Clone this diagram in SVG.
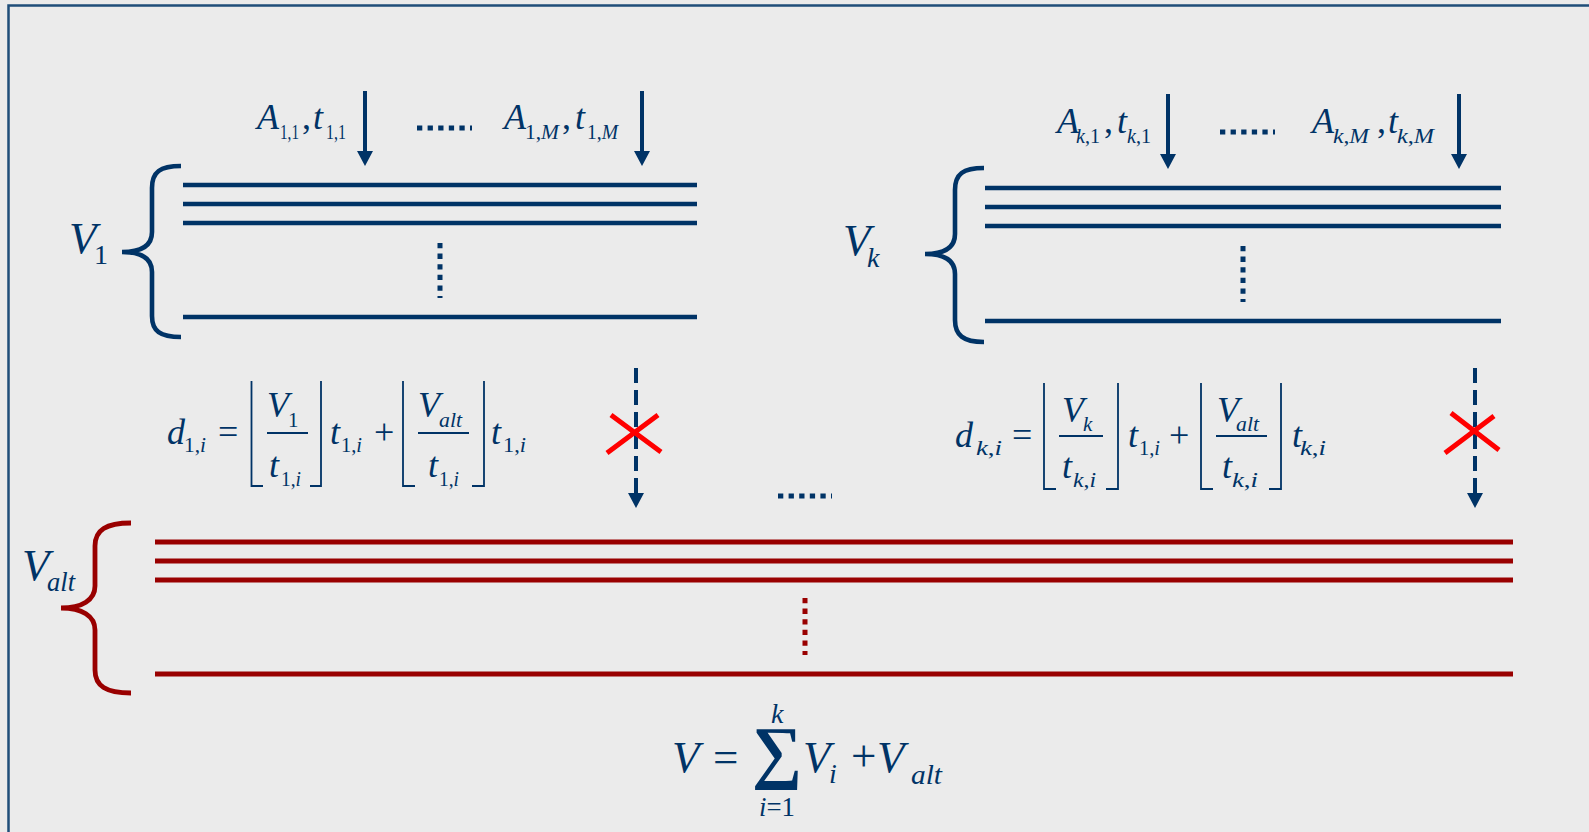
<svg xmlns="http://www.w3.org/2000/svg" width="1589" height="832" viewBox="0 0 1589 832">
<style>
.bl{stroke:#003366;stroke-width:4.6;fill:none}
.rl{stroke:#990000;stroke-width:4.8;fill:none}
.dot{stroke-dasharray:5.3 5.3;stroke-width:5;fill:none}
.thin{stroke:#003366;stroke-width:1.8;fill:none}
.x{stroke:#FF0000;stroke-width:5;fill:none}
.dash{stroke:#003366;stroke-width:4;stroke-dasharray:15 7;fill:none}
.arr{stroke:#003366;stroke-width:4;fill:none}
text{font-family:"Liberation Serif","Times New Roman",serif;fill:#003366}
.i{font-style:italic}
.m{font-size:36px}
.s{font-size:21px}
.L{font-size:45px}
.LS{font-size:28px}
</style>
<defs>
<marker id="ah" markerUnits="userSpaceOnUse" markerWidth="15" markerHeight="16" viewBox="0 0 15 16" refX="0" refY="8" orient="auto"><path d="M0,0 L15,8 L0,16z" fill="#003366"/></marker>
</defs>
<rect x="0" y="0" width="1589" height="832" fill="#EBEBEB"/>
<rect id="frame" x="8.5" y="5.5" width="1640" height="900" fill="none" stroke="#1F4E79" stroke-width="2.5"/>

<g id="node-v1">
<path class="bl" d="M181,166 C160,166 152,172 152,188 L152,232 C152,245 142,252 122,252 C142,252 152,259 152,272 L152,316 C152,331 160,337 181,337"/>
<path class="bl" d="M183,185 H697 M183,204 H697 M183,223 H697 M183,317 H697"/>
<path class="dot" stroke="#003366" d="M440,243 V298"/>
<text x="69" y="253" class="i L">V</text>
<text x="94" y="264" class="LS">1</text>
</g>

<g id="node-vk">
<path class="bl" d="M984,168 C963,168 955,174 955,190 L955,234 C955,247 945,254 925,254 C945,254 955,261 955,274 L955,320 C955,335 963,342 984,342"/>
<path class="bl" d="M985,188 H1501 M985,207 H1501 M985,226 H1501 M985,321 H1501"/>
<path class="dot" stroke="#003366" d="M1243,246 V302"/>
<text x="843" y="255" class="i L">V</text>
<text x="867" y="267" class="i LS">k</text>
</g>

<g id="node-valt">
<path class="rl" d="M131,523 C106,523 95,530 95,546 L95,586 C95,600 82,608 61,608 C82,608 95,616 95,630 L95,670 C95,686 106,693 131,693"/>
<path class="rl" d="M155,542 H1513 M155,561 H1513 M155,580 H1513 M155,674 H1513"/>
<path class="dot" stroke="#990000" d="M805,598 V655"/>
<text x="22" y="580" class="i L">V</text>
<text x="47" y="591" class="i LS" textLength="28" lengthAdjust="spacingAndGlyphs">alt</text>
</g>

<g id="labels-v1">
<text x="257" y="129" class="i m">A</text>
<text x="280" y="139" class="s" textLength="19" lengthAdjust="spacingAndGlyphs">1,1</text>
<text x="302" y="129" class="m">,</text>
<text x="313" y="129" class="i m">t</text>
<text x="326" y="139" class="s" textLength="20" lengthAdjust="spacingAndGlyphs">1,1</text>
<path class="dot" stroke="#003366" d="M417,128 H472"/>
<text x="504" y="129" class="i m">A</text>
<text x="525" y="139" class="s" textLength="34" lengthAdjust="spacingAndGlyphs">1,<tspan class="i">M</tspan></text>
<text x="562" y="129" class="m">,</text>
<text x="575" y="129" class="i m">t</text>
<text x="587" y="139" class="s" textLength="31" lengthAdjust="spacingAndGlyphs">1,<tspan class="i">M</tspan></text>
</g>

<g id="labels-vk">
<text x="1057" y="133" class="i m">A</text>
<text x="1076" y="143" class="s" textLength="24" lengthAdjust="spacingAndGlyphs"><tspan class="i">k</tspan>,1</text>
<text x="1104" y="133" class="m">,</text>
<text x="1117" y="133" class="i m">t</text>
<text x="1127" y="143" class="s" textLength="24" lengthAdjust="spacingAndGlyphs"><tspan class="i">k</tspan>,1</text>
<path class="dot" stroke="#003366" d="M1220,132 H1275"/>
<text x="1312" y="133" class="i m">A</text>
<text x="1333" y="143" class="s" textLength="36" lengthAdjust="spacingAndGlyphs"><tspan class="i">k</tspan>,<tspan class="i">M</tspan></text>
<text x="1377" y="133" class="m">,</text>
<text x="1388" y="133" class="i m">t</text>
<text x="1397" y="143" class="s" textLength="37" lengthAdjust="spacingAndGlyphs"><tspan class="i">k</tspan>,<tspan class="i">M</tspan></text>
</g>

<g id="formula-d1">
<text x="167" y="444" class="i m">d</text>
<text x="184" y="452" class="s" textLength="22" lengthAdjust="spacingAndGlyphs">1,<tspan class="i">i</tspan></text>
<text x="218" y="444" class="m">=</text>
<path class="thin" d="M263,486 H251.5 V381 M310,486 H321 V381"/>
<text x="267" y="417" class="i m">V</text>
<text x="288" y="427" class="s">1</text>
<path class="thin" d="M267,433 H308"/>
<text x="269" y="477" class="i m">t</text>
<text x="281" y="486" class="s" textLength="20" lengthAdjust="spacingAndGlyphs">1,<tspan class="i">i</tspan></text>
<text x="330" y="444" class="i m">t</text>
<text x="341" y="452" class="s" textLength="21" lengthAdjust="spacingAndGlyphs">1,<tspan class="i">i</tspan></text>
<text x="374" y="444" class="m">+</text>
<path class="thin" d="M415,486 H403 V381 M472,486 H484 V381"/>
<text x="418" y="417" class="i m">V</text>
<text x="439" y="427" class="i s" textLength="23" lengthAdjust="spacingAndGlyphs">alt</text>
<path class="thin" d="M418,433 H469"/>
<text x="428" y="477" class="i m">t</text>
<text x="439" y="486" class="s" textLength="20" lengthAdjust="spacingAndGlyphs">1,<tspan class="i">i</tspan></text>
<text x="491" y="444" class="i m">t</text>
<text x="503" y="452" class="s" textLength="23" lengthAdjust="spacingAndGlyphs">1,<tspan class="i">i</tspan></text>
</g>

<g id="formula-dk">
<text x="955" y="447" class="i m">d</text>
<text x="976" y="455" class="s" textLength="26" lengthAdjust="spacingAndGlyphs"><tspan class="i">k</tspan>,<tspan class="i">i</tspan></text>
<text x="1012" y="447" class="m">=</text>
<path class="thin" d="M1056,489 H1044 V383 M1106,489 H1118 V383"/>
<text x="1062" y="422" class="i m">V</text>
<text x="1083" y="431" class="i s">k</text>
<path class="thin" d="M1059,436 H1103"/>
<text x="1062" y="478" class="i m">t</text>
<text x="1073" y="487" class="s" textLength="23" lengthAdjust="spacingAndGlyphs"><tspan class="i">k</tspan>,<tspan class="i">i</tspan></text>
<text x="1128" y="447" class="i m">t</text>
<text x="1139" y="455" class="s" textLength="21" lengthAdjust="spacingAndGlyphs">1,<tspan class="i">i</tspan></text>
<text x="1169" y="447" class="m">+</text>
<path class="thin" d="M1213,489 H1201 V383 M1269,489 H1281 V383"/>
<text x="1217" y="422" class="i m">V</text>
<text x="1236" y="431" class="i s" textLength="23" lengthAdjust="spacingAndGlyphs">alt</text>
<path class="thin" d="M1216,436 H1267"/>
<text x="1222" y="478" class="i m">t</text>
<text x="1232" y="487" class="s" textLength="26" lengthAdjust="spacingAndGlyphs"><tspan class="i">k</tspan>,<tspan class="i">i</tspan></text>
<text x="1292" y="447" class="i m">t</text>
<text x="1300" y="455" class="s" textLength="26" lengthAdjust="spacingAndGlyphs"><tspan class="i">k</tspan>,<tspan class="i">i</tspan></text>
</g>

<g id="formula-v">
<text x="672" y="772" class="i L">V</text>
<text x="713" y="772" class="L">=</text>
<text x="752" y="775" font-size="70" font-weight="bold" textLength="50" lengthAdjust="spacingAndGlyphs">∑</text>
<text x="771" y="723" class="i LS">k</text>
<text x="759" y="816" class="LS" textLength="36" lengthAdjust="spacingAndGlyphs"><tspan class="i">i</tspan>=1</text>
<text x="803" y="772" class="i L">V</text>
<text x="829" y="783" class="i LS">i</text>
<text x="851" y="771" class="L">+</text>
<text x="877" y="772" class="i L">V</text>
<text x="911" y="784" class="i LS" textLength="31" lengthAdjust="spacingAndGlyphs">alt</text>
</g>

<g id="connectors">
<path class="arr" d="M365,91 V151" marker-end="url(#ah)"/>
<path class="arr" d="M642,91 V151" marker-end="url(#ah)"/>
<path class="arr" d="M1168,94 V154" marker-end="url(#ah)"/>
<path class="arr" d="M1459,94 V154" marker-end="url(#ah)"/>
<path class="dash" d="M636,368 V493" marker-end="url(#ah)"/>
<path class="dash" d="M1475,368 V493" marker-end="url(#ah)"/>
<path class="dot" stroke="#003366" d="M778,496 H832"/>
</g>

<g id="blocked">
<path class="x" d="M611,415 L661,452 M658,415 L607,453"/>
<path class="x" d="M1451,413 L1499,450 M1494,416 L1445,453"/>
</g>
</svg>
